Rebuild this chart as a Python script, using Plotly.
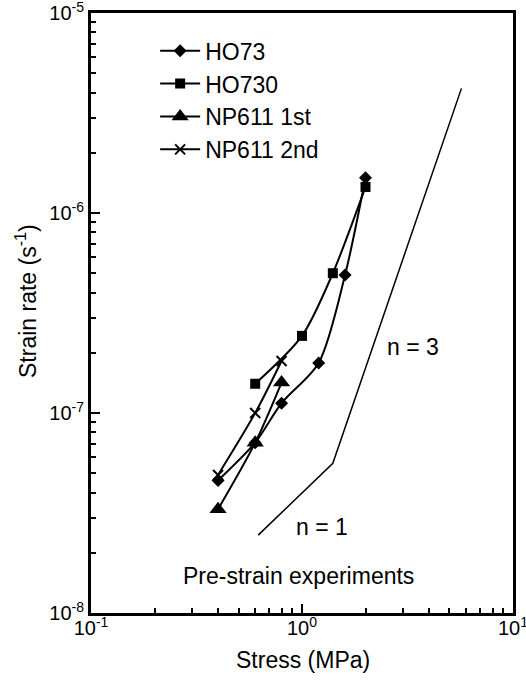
import plotly.graph_objects as go

# Data (stress in MPa, strain rate in 1/s)
ho73_stress = [0.4, 0.6, 0.8, 1.2, 1.6, 2.0]
ho73_rate = [4.6e-8, 7.1e-8, 1.12e-7, 1.78e-7, 4.9e-7, 1.5e-6]

ho730_stress = [0.6, 1.0, 1.4, 2.0]
ho730_rate = [1.4e-7, 2.43e-7, 5.0e-7, 1.35e-6]

np611_1_stress = [0.4, 0.6, 0.8]
np611_1_rate = [3.3e-8, 7.1e-8, 1.42e-7]

np611_2_stress = [0.4, 0.6, 0.8]
np611_2_rate = [4.9e-8, 1.0e-7, 1.82e-7]

ref_stress = [0.62, 1.4, 5.7]
ref_rate = [2.45e-8, 5.6e-8, 4.2e-6]

x_tickvals = [0.1, 1, 10]
x_ticktext = ["10<sup>-1</sup>", "10<sup>0</sup>", "10<sup>1</sup>"]
y_tickvals = [1e-8, 1e-7, 1e-6, 1e-5]
y_ticktext = ["10<sup>-8</sup>", "10<sup>-7</sup>", "10<sup>-6</sup>", "10<sup>-5</sup>"]

FONT = "Liberation Sans, Arial, sans-serif"

fig = go.Figure()

fig.add_trace(go.Scatter(x=ref_stress, y=ref_rate, mode="lines",
                         line=dict(color="black", width=1.5), showlegend=False))

series = [
    ("HO73", ho73_stress, ho73_rate, "diamond", 10),
    ("HO730", ho730_stress, ho730_rate, "square", 10),
    ("NP611 1st", np611_1_stress, np611_1_rate, "triangle-up", 15),
    ("NP611 2nd", np611_2_stress, np611_2_rate, "x-thin", 10),
]
for name, xs, ys, sym, sz in series:
    fig.add_trace(go.Scatter(
        x=xs, y=ys, name=name, mode="lines+markers",
        line=dict(color="black", width=2, shape="spline", smoothing=0.8),
        marker=dict(symbol=sym, size=sz, color="black",
                    line=dict(color="black", width=2 if sym == "x-thin" else 0)),
    ))

axis_common = dict(
    type="log",
    ticks="inside", ticklen=9, tickwidth=1.5, tickcolor="black",
    showline=True, linewidth=3, linecolor="black", mirror=True,
    showgrid=False, zeroline=False, automargin=False,
    ticklabeloverflow="allow",
    tickfont=dict(family=FONT, size=20, color="black"),
    minor=dict(ticks="inside", ticklen=5, tickwidth=1.5, tickcolor="black",
               dtick="D1", showgrid=False),
)

fig.update_xaxes(range=[-1.0002, 1.0002], ticklabelstandoff=-5,
                 tickmode="array", tickvals=x_tickvals, ticktext=x_ticktext, **axis_common)
fig.update_yaxes(range=[-8.0002, -4.9998],
                 tickmode="array", tickvals=y_tickvals, ticktext=y_ticktext, **axis_common)

def px2paper(px, py):
    return (px - 91) / 422, 1 - (py - 13) / 600

annots = [("n = 3", 413, 347, 0), ("n = 1", 322, 527, 0),
          ("Pre-strain experiments", 298, 576, 0),
          ("Stress (MPa)", 303, 660, 0),
          ("Strain rate (s<sup>-1</sup>)", 26, 301, -90)]
for txt, px, py, ang in annots:
    ax, ay = px2paper(px, py)
    fig.add_annotation(x=ax, y=ay, xref="paper", yref="paper", text=txt,
                       xanchor="center", yanchor="middle", textangle=ang,
                       showarrow=False, font=dict(family=FONT, size=23, color="black"))

fig.update_layout(
    width=526, height=685,
    margin=dict(l=91, r=13, t=13, b=72, autoexpand=False),
    paper_bgcolor="white", plot_bgcolor="white",
    font=dict(family=FONT, color="black"),
    legend=dict(x=0.152, y=0.973, xanchor="left", yanchor="top",
                bgcolor="rgba(0,0,0,0)", font=dict(family=FONT, size=23, color="black"),
                itemwidth=40, tracegroupgap=0),
)

fig.write_html("out.html", config={"displayModeBar": False},
               post_script="document.body.style.margin='0';document.body.style.overflow='hidden';")
